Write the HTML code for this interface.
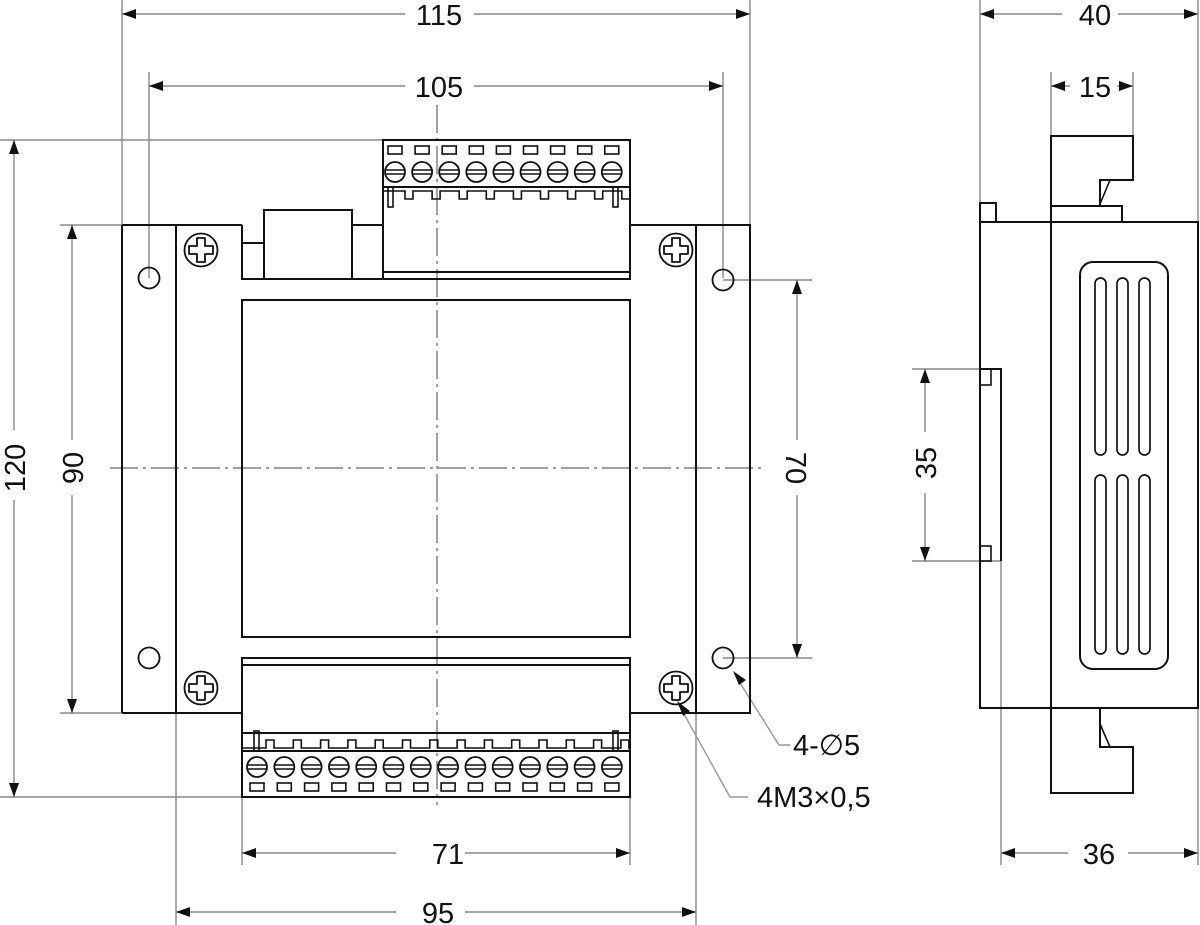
<!DOCTYPE html>
<html><head><meta charset="utf-8"><style>
html,body{margin:0;padding:0;background:#fff;}
svg{display:block;}
text{font-family:"Liberation Sans",sans-serif;font-size:29px;fill:#111;}
</style></head><body>
<svg width="1200" height="925" viewBox="0 0 1200 925" xmlns="http://www.w3.org/2000/svg">
<defs>
<marker id="a" viewBox="0 0 14 10" refX="14" refY="5" markerWidth="14" markerHeight="10" markerUnits="userSpaceOnUse" orient="auto-start-reverse"><path d="M0,0 L14,5 L0,10 z" fill="#111"/></marker>
<g id="tt">
<rect x="-7" y="-26" width="14" height="8" fill="none" stroke="#111" stroke-width="1.6"/>
<circle cx="0" cy="0" r="10" fill="none" stroke="#111" stroke-width="1.8"/>
<line x1="-9.8" y1="-2" x2="9.8" y2="-2" stroke="#111" stroke-width="1.5"/>
<line x1="-9.8" y1="2" x2="9.8" y2="2" stroke="#111" stroke-width="1.5"/>
</g>
<g id="tb">
<rect x="-7" y="16" width="14" height="8" fill="none" stroke="#111" stroke-width="1.6"/>
<circle cx="0" cy="0" r="10" fill="none" stroke="#111" stroke-width="1.8"/>
<line x1="-9.8" y1="-2" x2="9.8" y2="-2" stroke="#111" stroke-width="1.5"/>
<line x1="-9.8" y1="2" x2="9.8" y2="2" stroke="#111" stroke-width="1.5"/>
</g>
<g id="sc">
<circle cx="0" cy="0" r="16.5" fill="none" stroke="#111" stroke-width="1.8"/>
<path d="M-4,-12 h8 v8 h8 v8 h-8 v8 h-8 v-8 h-8 v-8 h8 z" fill="none" stroke="#111" stroke-width="1.8" stroke-linejoin="round"/>
</g>
</defs>

<!-- center lines -->
<g stroke="#666" stroke-width="1.2" stroke-dasharray="28,5,3,5" fill="none">
<line x1="437" y1="105" x2="437" y2="805"/>
<line x1="110" y1="468" x2="765" y2="468"/>
</g>

<!-- dimension / extension lines -->
<g stroke="#888" stroke-width="1.4" fill="none">
<line x1="122" y1="0" x2="122" y2="225"/>
<line x1="750" y1="0" x2="750" y2="225"/>
<line x1="149" y1="72" x2="149" y2="278"/>
<line x1="723" y1="72" x2="723" y2="278"/>
<line x1="0" y1="140" x2="383" y2="140"/>
<line x1="0" y1="797" x2="242" y2="797"/>
<line x1="60" y1="225" x2="122" y2="225"/>
<line x1="60" y1="713" x2="122" y2="713"/>
<line x1="723" y1="280" x2="812" y2="280"/>
<line x1="723" y1="658" x2="812" y2="658"/>
<line x1="242" y1="797" x2="242" y2="865"/>
<line x1="630" y1="797" x2="630" y2="865"/>
<line x1="176" y1="713" x2="176" y2="925"/>
<line x1="696" y1="713" x2="696" y2="925"/>
<line x1="980" y1="0" x2="980" y2="203"/>
<line x1="1198" y1="0" x2="1198" y2="222"/>
<line x1="1051" y1="72" x2="1051" y2="136"/>
<line x1="1133" y1="72" x2="1133" y2="136"/>
<line x1="912" y1="369" x2="991" y2="369"/>
<line x1="912" y1="561" x2="1001" y2="561"/>
<line x1="1001" y1="561" x2="1001" y2="865"/>
<line x1="1198" y1="708" x2="1198" y2="865"/>
<!-- leaders -->
<polyline points="735,675 779,745 790,745" stroke="#999"/>
<polyline points="679,705 730,797 748,797" stroke="#999"/>
</g>
<g stroke="#888" stroke-width="1.4" fill="none">
<!-- 115 -->
<line x1="122" y1="14" x2="405" y2="14" marker-start="url(#a)"/>
<line x1="474" y1="14" x2="750" y2="14" marker-end="url(#a)"/>
<!-- 105 -->
<line x1="149" y1="86" x2="405" y2="86" marker-start="url(#a)"/>
<line x1="474" y1="86" x2="723" y2="86" marker-end="url(#a)"/>
<!-- 120 -->
<line x1="14" y1="140" x2="14" y2="430" marker-start="url(#a)"/>
<line x1="14" y1="500" x2="14" y2="797" marker-end="url(#a)"/>
<!-- 90 -->
<line x1="72" y1="225" x2="72" y2="440" marker-start="url(#a)"/>
<line x1="72" y1="495" x2="72" y2="713" marker-end="url(#a)"/>
<!-- 70 -->
<line x1="797" y1="280" x2="797" y2="440" marker-start="url(#a)"/>
<line x1="797" y1="495" x2="797" y2="658" marker-end="url(#a)"/>
<!-- 71 -->
<line x1="242" y1="853" x2="396" y2="853" marker-start="url(#a)"/>
<line x1="465" y1="853" x2="630" y2="853" marker-end="url(#a)"/>
<!-- 95 -->
<line x1="176" y1="912" x2="396" y2="912" marker-start="url(#a)"/>
<line x1="465" y1="912" x2="696" y2="912" marker-end="url(#a)"/>
<!-- 40 -->
<line x1="980" y1="14" x2="1062" y2="14" marker-start="url(#a)"/>
<line x1="1118" y1="14" x2="1198" y2="14" marker-end="url(#a)"/>
<!-- 15 -->
<line x1="1051" y1="86" x2="1070" y2="86" marker-start="url(#a)"/>
<line x1="1117" y1="86" x2="1133" y2="86" marker-end="url(#a)"/>
<!-- 35 -->
<line x1="925" y1="369" x2="925" y2="432" marker-start="url(#a)"/>
<line x1="925" y1="493" x2="925" y2="561" marker-end="url(#a)"/>
<!-- 36 -->
<line x1="1001" y1="853" x2="1068" y2="853" marker-start="url(#a)"/>
<line x1="1128" y1="853" x2="1198" y2="853" marker-end="url(#a)"/>
</g>
<!-- leader arrowheads -->
<path d="M733,671 L746,680 L739,685 z" fill="#111"/>
<path d="M677,701 L690,711 L683,716 z" fill="#111"/>

<!-- labels -->
<g text-anchor="middle">
<text x="439" y="25">115</text>
<text x="439" y="97">105</text>
<text x="448" y="864">71</text>
<text x="438" y="923">95</text>
<text x="1095" y="25">40</text>
<text x="1095" y="97">15</text>
<text x="1099" y="864">36</text>
<text transform="translate(25,468) rotate(-90)">120</text>
<text transform="translate(83,468) rotate(-90)">90</text>
<text transform="translate(786,468) rotate(90)">70</text>
<text transform="translate(936,463) rotate(-90)">35</text>
</g>
<text x="793" y="755">4-∅5</text>
<text x="757" y="807">4M3×0,5</text>

<!-- front view body -->
<g stroke="#111" stroke-width="2" fill="none">
<path d="M122,225 H242 M352,225 H383 M630,225 H750 V713 H630 M242,713 H122 Z"/>
<line x1="122" y1="225" x2="122" y2="713"/>
<line x1="176" y1="225" x2="176" y2="713"/>
<line x1="696" y1="225" x2="696" y2="713"/>
<path d="M242,225 V279 H383"/>
<line x1="242" y1="243" x2="264" y2="243"/>
<rect x="264" y="210" width="88" height="69"/>
<rect x="242" y="300" width="388" height="337"/>
<!-- top terminal block -->
<rect x="383" y="140" width="247" height="139"/>
<line x1="383" y1="187" x2="630" y2="187"/>
<line x1="383" y1="272" x2="630" y2="272"/>
<path d="M383,191 H405 v8 h8 v-8 h19.1 v8 h8 v-8 h19.1 v8 h8 v-8 h19.1 v8 h8 v-8 h19.1 v8 h8 v-8 h19.1 v8 h8 v-8 h19.1 v8 h8 v-8 h19.1 v8 h8 v-8 h19.1 v8 h8 v-8 H630" stroke-width="1.6"/>
<rect x="388" y="187" width="5" height="20" stroke-width="1.6"/>
<rect x="613" y="187" width="5" height="20" stroke-width="1.6"/>
<!-- bottom terminal block -->
<rect x="242" y="658" width="388" height="139"/>
<line x1="242" y1="665" x2="630" y2="665"/>
<line x1="242" y1="733" x2="630" y2="733"/>
<line x1="242" y1="751" x2="630" y2="751"/>
<path d="M242,748 H266 v-8 h8 v8 h19.3 v-8 h8 v8 h19.3 v-8 h8 v8 h19.3 v-8 h8 v8 h19.3 v-8 h8 v8 h19.3 v-8 h8 v8 h19.3 v-8 h8 v8 h19.3 v-8 h8 v8 h19.3 v-8 h8 v8 h19.3 v-8 h8 v8 h19.3 v-8 h8 v8 h19.3 v-8 h8 v8 h19.3 v-8 h8 v8 h19.3 v-8 h8 v8 H630" stroke-width="1.6"/>
<rect x="254" y="731" width="5" height="20" stroke-width="1.6"/>
<rect x="613" y="731" width="5" height="20" stroke-width="1.6"/>
<!-- holes -->
<circle cx="149" cy="278" r="10.5" stroke-width="1.8"/>
<circle cx="723" cy="280" r="10.5" stroke-width="1.8"/>
<circle cx="149" cy="658" r="10.5" stroke-width="1.8"/>
<circle cx="723" cy="658" r="10.5" stroke-width="1.8"/>
</g>
<use href="#tt" x="395" y="172"/><use href="#tt" x="422.1" y="172"/><use href="#tt" x="449.2" y="172"/>
<use href="#tt" x="476.3" y="172"/><use href="#tt" x="503.4" y="172"/><use href="#tt" x="530.5" y="172"/>
<use href="#tt" x="557.6" y="172"/><use href="#tt" x="584.7" y="172"/><use href="#tt" x="611.8" y="172"/>
<use href="#tb" x="257" y="767"/><use href="#tb" x="284.3" y="767"/><use href="#tb" x="311.6" y="767"/>
<use href="#tb" x="338.9" y="767"/><use href="#tb" x="366.2" y="767"/><use href="#tb" x="393.5" y="767"/>
<use href="#tb" x="420.8" y="767"/><use href="#tb" x="448.1" y="767"/><use href="#tb" x="475.4" y="767"/>
<use href="#tb" x="502.7" y="767"/><use href="#tb" x="530" y="767"/><use href="#tb" x="557.3" y="767"/>
<use href="#tb" x="584.6" y="767"/><use href="#tb" x="611.9" y="767"/>
<use href="#sc" x="201" y="250"/><use href="#sc" x="676" y="250"/>
<use href="#sc" x="201" y="688"/><use href="#sc" x="676" y="688"/>

<!-- side view -->
<g stroke="#111" stroke-width="2" fill="none">
<rect x="980" y="222" width="218" height="486"/>
<line x1="1051" y1="222" x2="1051" y2="708"/>
<rect x="980" y="203" width="16" height="19"/>
<path d="M1051,222 V136 H1133 V180 H1100 V206"/>
<line x1="1110" y1="180" x2="1100" y2="204" stroke-width="1.6"/>
<rect x="1051" y="206" width="71" height="16"/>
<path d="M980,369 H1001 V561"/>
<rect x="980" y="369" width="11" height="16" stroke-width="1.6"/>
<rect x="980" y="546" width="11" height="15" stroke-width="1.6"/>
<path d="M1051,708 V793 H1133 V747 H1100 V708"/>
<line x1="1100" y1="724" x2="1110" y2="747" stroke-width="1.6"/>
<rect x="1080" y="262" width="88" height="407" rx="13" ry="13"/>
<rect x="1095" y="278" width="11" height="177" rx="5.5" stroke-width="1.7"/>
<rect x="1117" y="278" width="11" height="177" rx="5.5" stroke-width="1.7"/>
<rect x="1139" y="278" width="11" height="177" rx="5.5" stroke-width="1.7"/>
<rect x="1095" y="475" width="11" height="179" rx="5.5" stroke-width="1.7"/>
<rect x="1117" y="475" width="11" height="179" rx="5.5" stroke-width="1.7"/>
<rect x="1139" y="475" width="11" height="179" rx="5.5" stroke-width="1.7"/>
</g>
</svg>
</body></html>
